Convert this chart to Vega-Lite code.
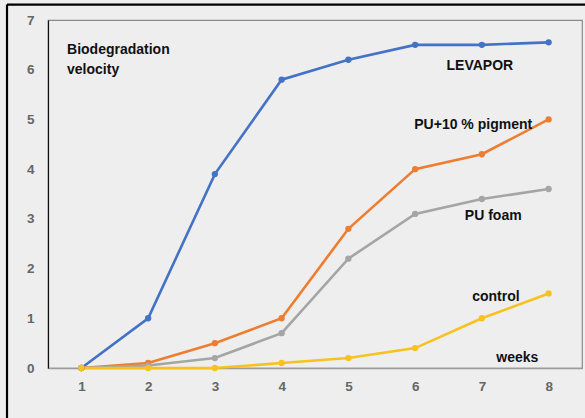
{
  "$schema": "https://vega.github.io/schema/vega-lite/v6.json",
  "autosize": {"type": "none"},
  "width": 534,
  "height": 348,
  "padding": {"left": 48, "top": 20, "right": 3, "bottom": 50},
  "background": "#eeeeee",
  "config": {
    "view": {"stroke": "#8a8a8a", "strokeWidth": 1.2, "fill": "#eeeeee"},
    "font": "Liberation Sans"
  },
  "datasets": {
    "series": [
      {"week": 1, "value": 0, "series": "LEVAPOR"},
      {"week": 2, "value": 1.0, "series": "LEVAPOR"},
      {"week": 3, "value": 3.9, "series": "LEVAPOR"},
      {"week": 4, "value": 5.8, "series": "LEVAPOR"},
      {"week": 5, "value": 6.2, "series": "LEVAPOR"},
      {"week": 6, "value": 6.5, "series": "LEVAPOR"},
      {"week": 7, "value": 6.5, "series": "LEVAPOR"},
      {"week": 8, "value": 6.55, "series": "LEVAPOR"},
      {"week": 1, "value": 0, "series": "PU+10 % pigment"},
      {"week": 2, "value": 0.1, "series": "PU+10 % pigment"},
      {"week": 3, "value": 0.5, "series": "PU+10 % pigment"},
      {"week": 4, "value": 1.0, "series": "PU+10 % pigment"},
      {"week": 5, "value": 2.8, "series": "PU+10 % pigment"},
      {"week": 6, "value": 4.0, "series": "PU+10 % pigment"},
      {"week": 7, "value": 4.3, "series": "PU+10 % pigment"},
      {"week": 8, "value": 5.0, "series": "PU+10 % pigment"},
      {"week": 1, "value": 0, "series": "PU foam"},
      {"week": 2, "value": 0.05, "series": "PU foam"},
      {"week": 3, "value": 0.2, "series": "PU foam"},
      {"week": 4, "value": 0.7, "series": "PU foam"},
      {"week": 5, "value": 2.2, "series": "PU foam"},
      {"week": 6, "value": 3.1, "series": "PU foam"},
      {"week": 7, "value": 3.4, "series": "PU foam"},
      {"week": 8, "value": 3.6, "series": "PU foam"},
      {"week": 1, "value": 0, "series": "control"},
      {"week": 2, "value": 0, "series": "control"},
      {"week": 3, "value": 0, "series": "control"},
      {"week": 4, "value": 0.1, "series": "control"},
      {"week": 5, "value": 0.2, "series": "control"},
      {"week": 6, "value": 0.4, "series": "control"},
      {"week": 7, "value": 1.0, "series": "control"},
      {"week": 8, "value": 1.5, "series": "control"}
    ],
    "titleLines": [
      {"x": 0.785, "y": 6.4, "text": "Biodegradation"},
      {"x": 0.785, "y": 6.0, "text": "velocity"}
    ],
    "labels": [
      {"x": 6.97, "y": 6.08, "text": "LEVAPOR"},
      {"x": 6.87, "y": 4.89, "text": "PU+10 % pigment"},
      {"x": 7.17, "y": 3.06, "text": "PU foam"},
      {"x": 7.21, "y": 1.43, "text": "control"},
      {"x": 7.53, "y": 0.2, "text": "weeks"}
    ]
  },
  "layer": [
    {
      "data": {"name": "series"},
      "mark": {"type": "line", "strokeWidth": 2.6, "point": {"filled": true, "size": 40}},
      "encoding": {
        "x": {
          "field": "week", "type": "quantitative",
          "scale": {"domain": [0.5, 8.5], "nice": false, "zero": false},
          "axis": {"values": [1,2,3,4,5,6,7,8], "format": "d", "title": null, "grid": false, "ticks": false,
                   "domainColor": "#9a9a9a", "domainWidth": 1.6, "labelColor": "#666666",
                   "labelFontSize": 13.5, "labelFontWeight": "bold", "labelPadding": 11,
                   "labelFont": "Liberation Sans"}
        },
        "y": {
          "field": "value", "type": "quantitative",
          "scale": {"domain": [0, 7], "nice": false},
          "axis": {"values": [0,1,2,3,4,5,6,7], "format": "d", "title": null, "grid": false, "ticks": false,
                   "domainColor": "#111111", "domainWidth": 1.2, "labelColor": "#666666",
                   "labelFontSize": 13.5, "labelFontWeight": "bold", "labelPadding": 14,
                   "labelFont": "Liberation Sans"}
        },
        "color": {
          "field": "series", "type": "nominal",
          "scale": {"domain": ["LEVAPOR", "PU+10 % pigment", "PU foam", "control"],
                    "range": ["#4472c4", "#ed7d31", "#a5a5a5", "#f7c21f"]},
          "legend": null
        },
        "order": {"field": "week"}
      }
    },
    {
      "data": {"name": "titleLines"},
      "mark": {"type": "text", "fontSize": 14, "fontWeight": "bold", "color": "#111111",
               "baseline": "middle", "align": "left", "font": "Liberation Sans"},
      "encoding": {
        "x": {"field": "x", "type": "quantitative"},
        "y": {"field": "y", "type": "quantitative"},
        "text": {"field": "text"}
      }
    },
    {
      "data": {"name": "labels"},
      "mark": {"type": "text", "fontSize": 14, "fontWeight": "bold", "color": "#111111",
               "baseline": "middle", "align": "center", "font": "Liberation Sans"},
      "encoding": {
        "x": {"field": "x", "type": "quantitative"},
        "y": {"field": "y", "type": "quantitative"},
        "text": {"field": "text"}
      }
    },
    {
      "data": {"values": [{}]},
      "mark": {"type": "rule", "color": "#000000", "strokeWidth": 2.2, "clip": false},
      "encoding": {
        "x": {"datum": -0.114, "type": "quantitative"},
        "y": {"datum": 7.31, "type": "quantitative"},
        "y2": {"datum": -1.1}
      }
    },
    {
      "data": {"values": [{}]},
      "mark": {"type": "rule", "color": "#000000", "strokeWidth": 2.2, "clip": false},
      "encoding": {
        "y": {"datum": 7.31, "type": "quantitative"},
        "x": {"datum": -0.114, "type": "quantitative"},
        "x2": {"datum": 8.6}
      }
    }
  ]
}
